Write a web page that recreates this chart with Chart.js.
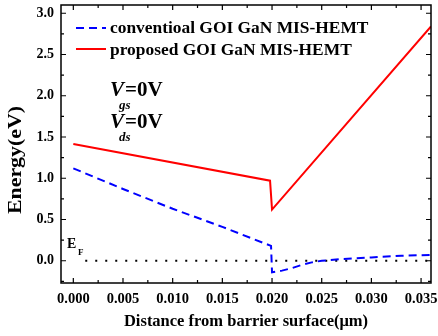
<!DOCTYPE html>
<html><head><meta charset="utf-8">
<script src="https://cdn.jsdelivr.net/npm/chart.js@4.4.0/dist/chart.umd.min.js"></script>
<style>html,body{margin:0;padding:0;background:#fff}#wrap{width:438px;height:336px;position:relative}</style>
</head><body><div id="wrap"><canvas id="c"></canvas></div>
<script>
// ---- data ----
const seriesNames = ['conventioal GOI GaN MIS-HEMT', 'proposed GOI GaN MIS-HEMT'];
const convX = [0, 0.005, 0.010, 0.015, 0.0199, 0.0200, 0.021, 0.022, 0.023, 0.024, 0.025, 0.027, 0.030, 0.033, 0.036];
const convY = [1.12, 0.87, 0.63, 0.41, 0.18, -0.14, -0.12, -0.09, -0.05, -0.02, 0.0, 0.02, 0.04, 0.06, 0.07];
const propX = [0, 0.0198, 0.0200, 0.036];
const propY = [1.415, 0.97, 0.62, 2.84];
const fermiX = [0.0012, 0.036];
const fermiY = [0, 0];
const xTicks = [0, 0.005, 0.010, 0.015, 0.020, 0.025, 0.030, 0.035];
const xMinor = [0.0025, 0.0075, 0.0125, 0.0175, 0.0225, 0.0275, 0.0325];
const yTicks = [0.0, 0.5, 1.0, 1.5, 2.0, 2.5, 3.0];
const yMinor = [-0.25, 0.25, 0.75, 1.25, 1.75, 2.25, 2.75];
const xTitle = 'Distance from barrier surface(\u03bcm)';
const yTitle = 'Energy(eV)';

const pts = (xs, ys) => xs.map((x, i) => ({x: x, y: ys[i]}));
const SERIF = '"Liberation Serif", "Times New Roman", serif';

const framePlugin = {
  id: 'frame',
  afterDraw(chart) {
    const {ctx, chartArea: a, scales: {x, y}} = chart;
    ctx.save();
    ctx.strokeStyle = '#000';
    ctx.lineWidth = 1.5;
    ctx.strokeRect(a.left, a.top, a.right - a.left, a.bottom - a.top);
    ctx.lineWidth = 1.2;
    ctx.beginPath();
    const xt = (v, len) => { const p = x.getPixelForValue(v);
      ctx.moveTo(p, a.bottom); ctx.lineTo(p, a.bottom - len);
      ctx.moveTo(p, a.top); ctx.lineTo(p, a.top + len); };
    const yt = (v, len) => { const p = y.getPixelForValue(v);
      ctx.moveTo(a.left, p); ctx.lineTo(a.left + len, p);
      ctx.moveTo(a.right, p); ctx.lineTo(a.right - len, p); };
    xTicks.forEach(v => xt(v, 5)); xMinor.forEach(v => xt(v, 3));
    yTicks.forEach(v => yt(v, 5)); yMinor.forEach(v => yt(v, 3));
    ctx.stroke();

    // legend
    const ds = chart.data.datasets;
    [[0, 28, 33], [1, 49, 55]].forEach(([i, ly, by]) => {
      const d = ds[i];
      ctx.beginPath();
      ctx.strokeStyle = d.borderColor;
      ctx.lineWidth = d.borderWidth;
      ctx.setLineDash(d.borderDash || []);
      ctx.moveTo(76, ly); ctx.lineTo(106, ly);
      ctx.stroke();
      ctx.setLineDash([]);
      ctx.fillStyle = '#000';
      ctx.font = 'bold 17.4px ' + SERIF;
      ctx.textBaseline = 'alphabetic';
      ctx.textAlign = 'left';
      ctx.fillText(d.label, 110, by);
    });

    // annotations
    const vLabel = (yb, sub) => {
      ctx.fillStyle = '#000';
      ctx.font = 'italic bold 21px ' + SERIF;
      ctx.fillText('V', 110, yb);
      ctx.font = 'italic bold 13px ' + SERIF;
      ctx.fillText(sub, 119, yb + 13);
      ctx.font = 'bold 21px ' + SERIF;
      ctx.fillText('=0V', 125, yb);
    };
    vLabel(96, 'gs');
    vLabel(128, 'ds');
    ctx.font = 'bold 14px ' + SERIF;
    ctx.fillText('E', 67, 248);
    ctx.font = 'bold 9px ' + SERIF;
    ctx.fillText('F', 78, 255);

    // y axis title (rotated, slightly stretched along its length as in the reference)
    ctx.save();
    ctx.translate(16, 160);
    ctx.rotate(-Math.PI / 2);
    ctx.font = 'bold 18px ' + SERIF;
    const w = ctx.measureText(yTitle).width;
    ctx.scale(108 / w, 1);
    ctx.textAlign = 'center';
    ctx.textBaseline = 'middle';
    ctx.fillText(yTitle, 0, 0);
    ctx.restore();
    ctx.restore();
  }
};

const noPad = s => { s.paddingTop = 0; s.paddingBottom = 0; s.paddingLeft = 0; s.paddingRight = 0; };

new Chart(document.getElementById('c'), {
  type: 'line',
  data: {
    datasets: [
      {label: seriesNames[0], data: pts(convX, convY), borderColor: '#0000ff', borderWidth: 2, borderDash: [8, 5], pointRadius: 0, tension: 0, fill: false},
      {label: seriesNames[1], data: pts(propX, propY), borderColor: '#ff0000', borderWidth: 2, pointRadius: 0, tension: 0, fill: false},
      {label: 'EF', data: pts(fermiX, fermiY), borderColor: '#000000', borderWidth: 2, borderDash: [2, 8], pointRadius: 0, tension: 0, fill: false}
    ]
  },
  options: {
    responsive: true, maintainAspectRatio: false, animation: false,
    layout: {padding: {left: 0, top: 5, right: 7, bottom: 0}},
    plugins: {legend: {display: false}, tooltip: {enabled: false}},
    scales: {
      x: {
        type: 'linear', min: -0.00124, max: 0.036,
        afterBuildTicks: s => { s.ticks = xTicks.map(v => ({value: v})); },
        afterFit: s => { s.height = 53; noPad(s); },
        grid: {display: false, drawTicks: false},
        border: {display: false},
        ticks: {padding: 8, color: '#000', font: {family: SERIF, size: 14.5, weight: 'bold'},
          callback: v => v.toFixed(3), maxRotation: 0, autoSkip: false},
        title: {display: true, text: xTitle, color: '#000', font: {family: SERIF, size: 16.5, weight: 'bold'}, padding: {top: 0, bottom: 4}}
      },
      y: {
        type: 'linear', min: -0.27, max: 3.1,
        afterBuildTicks: s => { s.ticks = yTicks.map(v => ({value: v})); },
        afterFit: s => { s.width = 61; noPad(s); },
        grid: {display: false, drawTicks: false},
        border: {display: false},
        ticks: {padding: 7, color: '#000', font: {family: SERIF, size: 14, weight: 'bold'},
          callback: v => v.toFixed(1), autoSkip: false},
        title: {display: false}
      }
    }
  },
  plugins: [framePlugin]
});
</script></body></html>
